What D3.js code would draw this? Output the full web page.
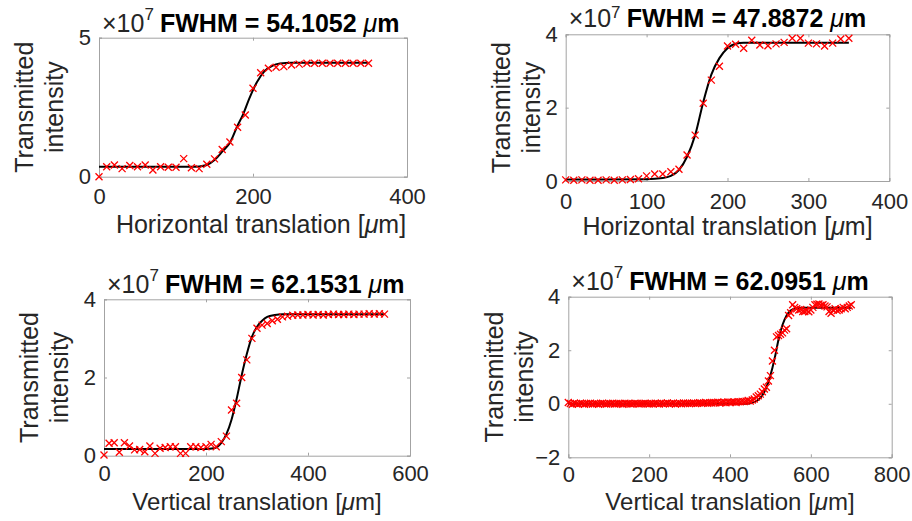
<!DOCTYPE html>
<meta charset="utf-8">
<style>
  body { margin: 0; background: #fff; }
  svg text { font-family: "Liberation Sans", Arial, Helvetica, sans-serif; }
</style>
<body>
<div id="chart"></div>
<script src="https://d3js.org/d3.v7.min.js"></script>
<script>

// ---- data (intensity in units of 1e7) ----
var titles = ["54.1052", "47.8872", "62.1531", "62.0951"];
var xLabels = ["Horizontal translation [", "Horizontal translation [", "Vertical translation [", "Vertical translation ["];
var xTickVals = [[0, 200, 400], [0, 100, 200, 300, 400], [0, 200, 400, 600], [0, 200, 400, 600, 800]];
var yTickVals = [[0, 5], [0, 2, 4], [0, 2, 4], [-2, 0, 2, 4]];

var posA = [0,10,20,30,40,50,60,70,80,90,100,110,120,130,140,150,160,170,180,190,200,210,220,230,240,250,260,270,280,290,300,310,320,330,340,350];
var valA = [0.00,0.36,0.42,0.29,0.40,0.36,0.42,0.24,0.36,0.34,0.34,0.65,0.32,0.29,0.45,0.64,0.98,1.25,1.78,2.22,3.18,3.74,3.90,3.94,3.96,4.02,4.05,4.08,4.08,4.08,4.08,4.08,4.08,4.08,4.08,4.08];
var fitXA = [0,120,130,140,150,160,170,180,187,195,205,215,225,235,250,350];
var fitYA = [0.36,0.36,0.37,0.42,0.60,0.90,1.22,1.84,2.23,2.80,3.40,3.80,3.99,4.07,4.10,4.10];

var posB = [0,10,20,30,40,50,60,70,80,90,100,110,120,130,140,150,160,170,180,190,200,210,220,230,240,250,260,270,280,290,300,310,320,330,340,350];
var valB = [0.03,0.02,0.03,0.02,0.02,0.03,0.02,0.03,0.04,0.06,0.14,0.19,0.19,0.25,0.32,0.71,1.25,2.12,2.75,3.13,3.68,3.73,3.62,3.84,3.71,3.69,3.74,3.78,3.89,3.89,3.76,3.74,3.68,3.76,3.87,3.89];
var fitXB = [0,100,120,130,140,150,160,170,180,190,200,210,220,350];
var fitYB = [0.04,0.05,0.08,0.14,0.30,0.66,1.25,2.15,2.90,3.35,3.62,3.74,3.77,3.77];

var posC = [0,10,20,30,40,50,60,70,80,90,100,110,120,130,140,150,160,170,180,190,200,210,220,230,240,250,260,270,280,290,300,310,320,330,340,350,360,370,380,390,400,410,420,430,440,450,460,470,480,490,500,510,520,530,540,550];
var valC = [0.02,0.32,0.33,0.09,0.33,0.25,0.15,0.16,0.10,0.25,0.06,0.19,0.21,0.23,0.23,0.06,0.06,0.23,0.23,0.21,0.23,0.29,0.23,0.36,0.50,1.17,1.34,2.00,2.45,3.00,3.26,3.34,3.38,3.45,3.49,3.55,3.57,3.59,3.60,3.60,3.61,3.60,3.61,3.60,3.61,3.62,3.61,3.61,3.62,3.61,3.62,3.62,3.63,3.62,3.63,3.62];
var fitXC = [0,200,215,230,240,250,260,270,280,290,300,310,320,335,350,550];
var fitYC = [0.17,0.17,0.19,0.33,0.55,0.92,1.45,2.06,2.60,3.04,3.30,3.45,3.55,3.60,3.62,3.62];

var posD = [0,5,10,15,20,25,30,35,40,45,50,55,60,65,70,75,80,85,90,95,100,
  105,110,115,120,125,130,135,140,145,150,155,160,165,170,175,180,185,190,195,200,
  205,210,215,220,225,230,235,240,245,250,255,260,265,270,275,280,285,290,295,300,
  305,310,315,320,325,330,335,340,345,350,355,360,365,370,375,380,385,390,395,400,
  405,410,415,420,425,430,435,440,445,450,455,460,465,470,475,480,485,490,495,500,
  505,510,515,520,525,530,535,540,545,550,555,560,565,570,575,580,585,590,595,600,
  605,610,615,620,625,630,635,640,645,650,655,660,665,670,675,680,685,690,695,700];
var valD = [0.05,0.01,-0.02,0.02,0.00,-0.01,0.02,0.01,-0.02,
  0.01,0.00,0.02,-0.01,0.01,0.00,-0.02,0.01,0.02,0.00,-0.01,0.01,
  0.00,0.02,-0.01,0.01,0.00,0.01,-0.02,0.02,0.00,0.01,-0.01,0.00,0.02,0.01,-0.01,0.00,0.01,0.02,0.00,-0.01,
  0.01,0.00,0.02,0.01,-0.01,0.02,0.00,0.01,0.03,0.00,0.01,0.02,-0.01,0.01,0.02,0.00,0.03,0.01,0.02,0.01,
  0.02,0.03,0.01,0.02,0.04,0.02,0.03,0.05,0.02,0.04,0.03,0.05,0.04,0.06,0.03,0.05,0.06,0.04,0.07,0.05,
  0.06,0.07,0.05,0.08,0.07,0.09,0.08,0.10,
  0.12,0.10,0.14,0.18,0.25,0.30,0.36,0.45,0.55,0.62,0.85,1.05,1.60,2.00,2.50,2.55,2.60,2.65,2.75,2.80,
  3.30,3.40,3.70,3.60,3.55,3.50,3.52,3.45,3.45,3.48,3.44,3.50,3.60,3.70,3.72,3.73,3.68,3.70,3.65,3.62,
  3.45,3.38,3.50,3.55,3.48,3.50,3.55,3.60,3.55,3.60,3.65,3.70];
var fitXD = [0,440,455,465,475,485,495,505,512,520,530,540,550,560,575,700];
var fitYD = [0.00,0.00,0.04,0.10,0.22,0.45,0.82,1.35,1.80,2.40,2.95,3.30,3.48,3.56,3.59,3.59];

// ---- layout ----
var width = 912, height = 521;
var boxes = [[99, 37.7, 407, 176.7], [565.7, 34.3, 889.3, 181], [104, 299.3, 410, 455.7], [568.3, 296.7, 891.7, 457.3]];
var titleY = [31.5, 26.5, 292.7, 290];
var xLabelY = [233, 235, 510, 510];
var xLabelSize = [25, 25, 24, 24];
var xTickGap = [12, 12, 10, 9.5];
var xLabelShift = [8, 0, 0, 0];
var yLabOff = [36, 26, 36, 35];

var series = [
  {x: posA, y: valA, fx: fitXA, fy: fitYA},
  {x: posB, y: valB, fx: fitXB, fy: fitYB},
  {x: posC, y: valC, fx: fitXC, fy: fitYC},
  {x: posD, y: valD, fx: fitXD, fy: fitYD}
];

var svg = d3.select("#chart").append("svg")
  .attr("width", width)
  .attr("height", height)
  .style("display", "block");

svg.append("rect").attr("width", width).attr("height", height).attr("fill", "#fff");

var textCol = "#262626", boxCol = "#a3a3a3";

series.forEach(function(s, i) {
  var b = boxes[i];
  var xt = xTickVals[i], yt = yTickVals[i];
  var x = d3.scaleLinear().domain([xt[0], xt[xt.length - 1]]).range([b[0], b[2]]);
  var y = d3.scaleLinear().domain([yt[0], yt[yt.length - 1]]).range([b[3], b[1]]);
  var g = svg.append("g");

  // axes with ticks on all four sides (ticks point inward)
  var axB = g.append("g").attr("transform", "translate(0," + b[3] + ")")
    .call(d3.axisBottom(x).tickValues(xt).tickSize(-3).tickPadding(10).tickFormat(d3.format("d")));
  var axT = g.append("g").attr("transform", "translate(0," + b[1] + ")")
    .call(d3.axisTop(x).tickValues(xt).tickSize(-3).tickFormat(""));
  var axL = g.append("g").attr("transform", "translate(" + b[0] + ",0)")
    .call(d3.axisLeft(y).tickValues(yt).tickSize(-3).tickPadding(8).tickFormat(d3.format("d")));
  var axR = g.append("g").attr("transform", "translate(" + b[2] + ",0)")
    .call(d3.axisRight(y).tickValues(yt).tickSize(-3).tickFormat(""));
  [axB, axT, axL, axR].forEach(function(a) {
    a.select(".domain").attr("stroke", boxCol).attr("stroke-width", 1);
    a.selectAll(".tick line").attr("stroke", boxCol);
    a.selectAll(".tick text").attr("fill", textCol).style("font-size", "22px")
      .style("font-family", "'Liberation Sans', Arial, sans-serif");
  });
  axB.selectAll(".tick text").attr("dy", "0.71em").attr("y", xTickGap[i]);

  // fit line
  var line = d3.line()
    .x(function(d) { return x(d[0]); })
    .y(function(d) { return y(d[1]); })
    .curve(d3.curveMonotoneX);
  g.append("path")
    .datum(d3.zip(s.fx, s.fy))
    .attr("d", line)
    .attr("fill", "none")
    .attr("stroke", "#000")
    .attr("stroke-width", 2);

  // data markers
  g.selectAll(".pt").data(d3.zip(s.x, s.y)).enter().append("path")
    .attr("class", "pt")
    .attr("transform", function(d) { return "translate(" + x(d[0]) + "," + y(d[1]) + ")"; })
    .attr("d", "M-3.5,-3.5L3.5,3.5M-3.5,3.5L3.5,-3.5")
    .attr("stroke", "#ff0000")
    .attr("stroke-width", 1.3)
    .attr("fill", "none");

  // exponent label
  var ex = g.append("text").attr("x", b[0] + 3).attr("y", titleY[i]).attr("fill", textCol);
  ex.append("tspan").style("font-size", "25px").text("\u00d710");
  ex.append("tspan").style("font-size", "17px").attr("dy", i === 1 ? -9 : -12).text("7");

  // title
  var t = g.append("text").attr("x", b[0] + 61).attr("y", titleY[i])
    .attr("fill", "#000").style("font-size", "25px").style("font-weight", "bold");
  t.append("tspan").text("FWHM = " + titles[i] + " ");
  t.append("tspan").style("font-style", "italic").style("font-weight", "normal").text("\u03bc");
  t.append("tspan").text("m");

  // x label
  var xl = g.append("text").attr("x", (b[0] + b[2]) / 2 + xLabelShift[i]).attr("y", xLabelY[i])
    .attr("text-anchor", "middle").attr("fill", textCol).style("font-size", xLabelSize[i] + "px");
  xl.append("tspan").text(xLabels[i]);
  xl.append("tspan").style("font-style", "italic").text("\u03bc");
  xl.append("tspan").text("m]");

  // y label, two lines
  var cy = (b[1] + b[3]) / 2;
  [["Transmitted", 30], ["intensity", 0]].forEach(function(p) {
    g.append("text")
      .attr("transform", "translate(" + (b[0] - yLabOff[i] - p[1]) + "," + cy + ") rotate(-90)")
      .attr("text-anchor", "middle").attr("fill", textCol).style("font-size", "25px")
      .text(p[0]);
  });
});

</script>
</body>
